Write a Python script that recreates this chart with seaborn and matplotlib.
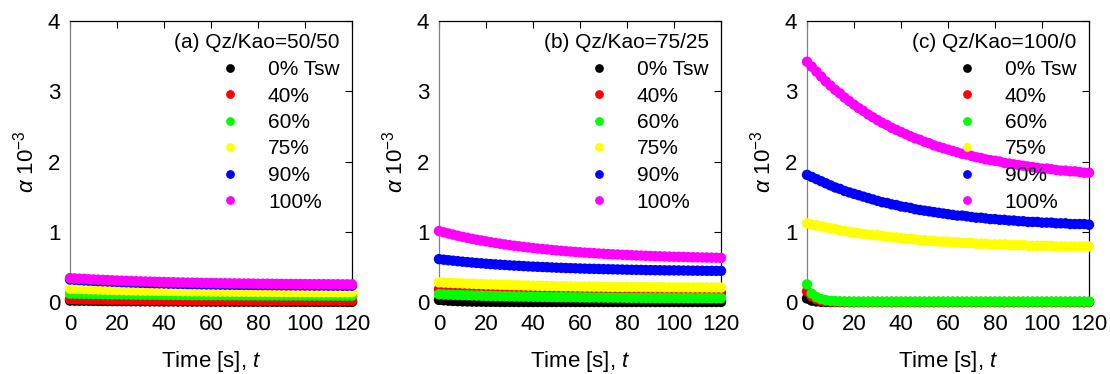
import matplotlib
matplotlib.use("Agg")
import matplotlib.pyplot as plt
from matplotlib.lines import Line2D
import pandas as pd
import seaborn as sns

# ---------------- data ----------------
TIME = list(range(0, 121, 2))  # seconds
LEVELS = ["0% Tsw", "40%", "60%", "75%", "90%", "100%"]
COLORS = ["#000000", "#ff0000", "#00ff00", "#ffff00", "#0000ff", "#ff00ff"]
TITLES = ["(a) Qz/Kao=50/50", "(b) Qz/Kao=75/25", "(c) Qz/Kao=100/0"]
XTICKS = [0, 20, 40, 60, 80, 100, 120]
YTICKS = [0, 1, 2, 3, 4]

# Panel (a) Qz/Kao=50/50
a_0 = [0.020, 0.019, 0.018, 0.018, 0.017, 0.016, 0.015, 0.015, 0.014, 0.013,
       0.013, 0.012, 0.012, 0.011, 0.011, 0.010, 0.010, 0.009, 0.009, 0.009,
       0.008, 0.008, 0.008, 0.007, 0.007, 0.007, 0.006, 0.006, 0.006, 0.006,
       0.005, 0.005, 0.005, 0.005, 0.004, 0.004, 0.004, 0.004, 0.004, 0.004,
       0.003, 0.003, 0.003, 0.003, 0.003, 0.003, 0.003, 0.002, 0.002, 0.002,
       0.002, 0.002, 0.002, 0.002, 0.002, 0.002, 0.002, 0.002, 0.002, 0.001,
       0.001]
a_40 = [0.040, 0.039, 0.038, 0.038, 0.037, 0.036, 0.035, 0.035, 0.034, 0.033,
        0.033, 0.032, 0.032, 0.031, 0.031, 0.030, 0.030, 0.029, 0.029, 0.029,
        0.028, 0.028, 0.028, 0.027, 0.027, 0.027, 0.026, 0.026, 0.026, 0.026,
        0.025, 0.025, 0.025, 0.025, 0.024, 0.024, 0.024, 0.024, 0.024, 0.024,
        0.023, 0.023, 0.023, 0.023, 0.023, 0.023, 0.023, 0.022, 0.022, 0.022,
        0.022, 0.022, 0.022, 0.022, 0.022, 0.022, 0.022, 0.022, 0.022, 0.021,
        0.021]
a_60 = [0.120, 0.119, 0.117, 0.116, 0.115, 0.114, 0.113, 0.111, 0.110, 0.109,
        0.109, 0.108, 0.107, 0.106, 0.105, 0.104, 0.104, 0.103, 0.102, 0.102,
        0.101, 0.101, 0.100, 0.100, 0.099, 0.099, 0.098, 0.098, 0.097, 0.097,
        0.096, 0.096, 0.096, 0.095, 0.095, 0.095, 0.094, 0.094, 0.094, 0.094,
        0.093, 0.093, 0.093, 0.093, 0.093, 0.092, 0.092, 0.092, 0.092, 0.092,
        0.091, 0.091, 0.091, 0.091, 0.091, 0.091, 0.091, 0.091, 0.090, 0.090,
        0.090]
a_75 = [0.190, 0.188, 0.185, 0.183, 0.181, 0.179, 0.177, 0.175, 0.174, 0.172,
        0.170, 0.169, 0.167, 0.166, 0.165, 0.163, 0.162, 0.161, 0.160, 0.159,
        0.158, 0.157, 0.156, 0.155, 0.154, 0.153, 0.152, 0.152, 0.151, 0.150,
        0.149, 0.149, 0.148, 0.148, 0.147, 0.147, 0.146, 0.146, 0.145, 0.145,
        0.144, 0.144, 0.144, 0.143, 0.143, 0.142, 0.142, 0.142, 0.142, 0.141,
        0.141, 0.141, 0.140, 0.140, 0.140, 0.140, 0.140, 0.139, 0.139, 0.139,
        0.139]
a_90 = [0.320, 0.316, 0.312, 0.308, 0.304, 0.301, 0.298, 0.295, 0.292, 0.289,
        0.286, 0.283, 0.281, 0.278, 0.276, 0.274, 0.272, 0.270, 0.268, 0.266,
        0.264, 0.262, 0.261, 0.259, 0.258, 0.256, 0.255, 0.254, 0.252, 0.251,
        0.250, 0.249, 0.248, 0.247, 0.246, 0.245, 0.244, 0.243, 0.243, 0.242,
        0.241, 0.240, 0.240, 0.239, 0.238, 0.238, 0.237, 0.237, 0.236, 0.236,
        0.235, 0.235, 0.234, 0.234, 0.234, 0.233, 0.233, 0.233, 0.232, 0.232,
        0.232]
a_100 = [0.340, 0.336, 0.332, 0.328, 0.324, 0.321, 0.318, 0.315, 0.312, 0.309,
         0.306, 0.303, 0.301, 0.298, 0.296, 0.294, 0.292, 0.290, 0.288, 0.286,
         0.284, 0.282, 0.281, 0.279, 0.278, 0.276, 0.275, 0.274, 0.272, 0.271,
         0.270, 0.269, 0.268, 0.267, 0.266, 0.265, 0.264, 0.263, 0.263, 0.262,
         0.261, 0.260, 0.260, 0.259, 0.258, 0.258, 0.257, 0.257, 0.256, 0.256,
         0.255, 0.255, 0.254, 0.254, 0.254, 0.253, 0.253, 0.253, 0.252, 0.252,
         0.252]

# Panel (b) Qz/Kao=75/25
b_0 = [0.030, 0.024, 0.019, 0.015, 0.012, 0.009, 0.007, 0.006, 0.005, 0.004,
       0.003, 0.002, 0.002, 0.001, 0.001, 0.001, 0.001, 0.000, 0.000, 0.000,
       0.000, 0.000, 0.000, 0.000, 0.000, 0.000, 0.000, 0.000, 0.000, 0.000,
       0.000, 0.000, 0.000, 0.000, 0.000, 0.000, 0.000, 0.000, 0.000, 0.000,
       0.000, 0.000, 0.000, 0.000, 0.000, 0.000, 0.000, 0.000, 0.000, 0.000,
       0.000, 0.000, 0.000, 0.000, 0.000, 0.000, 0.000, 0.000, 0.000, 0.000,
       0.000]
b_40 = [0.180, 0.178, 0.175, 0.173, 0.171, 0.169, 0.167, 0.165, 0.164, 0.162,
        0.160, 0.159, 0.157, 0.156, 0.155, 0.153, 0.152, 0.151, 0.150, 0.149,
        0.148, 0.147, 0.146, 0.145, 0.144, 0.143, 0.142, 0.142, 0.141, 0.140,
        0.139, 0.139, 0.138, 0.138, 0.137, 0.137, 0.136, 0.136, 0.135, 0.135,
        0.134, 0.134, 0.134, 0.133, 0.133, 0.132, 0.132, 0.132, 0.132, 0.131,
        0.131, 0.131, 0.130, 0.130, 0.130, 0.130, 0.130, 0.129, 0.129, 0.129,
        0.129]
b_60 = [0.110, 0.107, 0.105, 0.103, 0.100, 0.098, 0.096, 0.094, 0.092, 0.090,
        0.088, 0.087, 0.085, 0.084, 0.082, 0.081, 0.079, 0.078, 0.077, 0.076,
        0.075, 0.074, 0.073, 0.072, 0.071, 0.070, 0.069, 0.068, 0.067, 0.067,
        0.066, 0.065, 0.064, 0.064, 0.063, 0.063, 0.062, 0.062, 0.061, 0.061,
        0.060, 0.060, 0.059, 0.059, 0.058, 0.058, 0.058, 0.057, 0.057, 0.057,
        0.057, 0.056, 0.056, 0.056, 0.055, 0.055, 0.055, 0.055, 0.055, 0.054,
        0.054]
b_75 = [0.280, 0.277, 0.273, 0.270, 0.267, 0.264, 0.261, 0.259, 0.256, 0.254,
        0.251, 0.249, 0.247, 0.245, 0.243, 0.241, 0.239, 0.238, 0.236, 0.234,
        0.233, 0.231, 0.230, 0.229, 0.228, 0.226, 0.225, 0.224, 0.223, 0.222,
        0.221, 0.220, 0.219, 0.218, 0.218, 0.217, 0.216, 0.215, 0.215, 0.214,
        0.214, 0.213, 0.212, 0.212, 0.211, 0.211, 0.210, 0.210, 0.209, 0.209,
        0.209, 0.208, 0.208, 0.208, 0.207, 0.207, 0.207, 0.206, 0.206, 0.206,
        0.206]
b_90 = [0.610, 0.602, 0.595, 0.588, 0.581, 0.574, 0.568, 0.562, 0.556, 0.551,
        0.545, 0.540, 0.536, 0.531, 0.527, 0.522, 0.518, 0.515, 0.511, 0.507,
        0.504, 0.501, 0.498, 0.495, 0.492, 0.489, 0.487, 0.484, 0.482, 0.480,
        0.477, 0.475, 0.473, 0.472, 0.470, 0.468, 0.466, 0.465, 0.463, 0.462,
        0.460, 0.459, 0.458, 0.457, 0.455, 0.454, 0.453, 0.452, 0.451, 0.450,
        0.450, 0.449, 0.448, 0.447, 0.446, 0.446, 0.445, 0.444, 0.444, 0.443,
        0.443]
b_100 = [1.010, 0.992, 0.975, 0.959, 0.943, 0.928, 0.914, 0.900, 0.887, 0.875,
         0.863, 0.851, 0.841, 0.830, 0.820, 0.810, 0.801, 0.793, 0.784, 0.776,
         0.769, 0.761, 0.754, 0.748, 0.741, 0.735, 0.729, 0.723, 0.718, 0.713,
         0.708, 0.703, 0.699, 0.695, 0.690, 0.687, 0.683, 0.679, 0.676, 0.672,
         0.669, 0.666, 0.663, 0.661, 0.658, 0.655, 0.653, 0.651, 0.649, 0.646,
         0.644, 0.643, 0.641, 0.639, 0.637, 0.636, 0.634, 0.633, 0.631, 0.630,
         0.628]

# Panel (c) Qz/Kao=100/0
c_0 = [0.050, 0.020, 0.008, 0.003, 0.001, 0.000, 0.000, 0.000, 0.000, 0.000,
       0.000, 0.000, 0.000, 0.000, 0.000, 0.000, 0.000, 0.000, 0.000, 0.000,
       0.000, 0.000, 0.000, 0.000, 0.000, 0.000, 0.000, 0.000, 0.000, 0.000,
       0.000, 0.000, 0.000, 0.000, 0.000, 0.000, 0.000, 0.000, 0.000, 0.000,
       0.000, 0.000, 0.000, 0.000, 0.000, 0.000, 0.000, 0.000, 0.000, 0.000,
       0.000, 0.000, 0.000, 0.000, 0.000, 0.000, 0.000, 0.000, 0.000, 0.000,
       0.000]
c_40 = [0.150, 0.080, 0.040, 0.020, 0.010, 0.005, 0.002, 0.001, 0.000, 0.000,
        0.000, 0.000, 0.000, 0.000, 0.000, 0.000, 0.000, 0.000, 0.000, 0.000,
        0.000, 0.000, 0.000, 0.000, 0.000, 0.000, 0.000, 0.000, 0.000, 0.000,
        0.000, 0.000, 0.000, 0.000, 0.000, 0.000, 0.000, 0.000, 0.000, 0.000,
        0.000, 0.000, 0.000, 0.000, 0.000, 0.000, 0.000, 0.000, 0.000, 0.000,
        0.000, 0.000, 0.000, 0.000, 0.000, 0.000, 0.000, 0.000, 0.000, 0.000,
        0.000]
c_60 = [0.250, 0.120, 0.070, 0.042, 0.026, 0.017, 0.012, 0.009, 0.007, 0.006,
        0.005, 0.005, 0.005, 0.005, 0.005, 0.005, 0.005, 0.005, 0.005, 0.005,
        0.005, 0.005, 0.005, 0.005, 0.005, 0.005, 0.005, 0.005, 0.005, 0.005,
        0.005, 0.005, 0.005, 0.005, 0.005, 0.005, 0.005, 0.005, 0.005, 0.005,
        0.005, 0.005, 0.005, 0.005, 0.005, 0.005, 0.005, 0.005, 0.005, 0.005,
        0.005, 0.005, 0.005, 0.005, 0.005, 0.005, 0.005, 0.005, 0.005, 0.005,
        0.005]
c_75 = [1.12, 1.10, 1.09, 1.08, 1.06, 1.05, 1.04, 1.02, 1.01, 1.00,
        0.99, 0.98, 0.97, 0.96, 0.95, 0.95, 0.94, 0.93, 0.92, 0.92,
        0.91, 0.90, 0.90, 0.89, 0.88, 0.88, 0.87, 0.87, 0.86, 0.86,
        0.86, 0.85, 0.85, 0.84, 0.84, 0.84, 0.83, 0.83, 0.83, 0.82,
        0.82, 0.82, 0.82, 0.81, 0.81, 0.81, 0.81, 0.80, 0.80, 0.80,
        0.80, 0.80, 0.80, 0.79, 0.79, 0.79, 0.79, 0.79, 0.79, 0.79,
        0.79]
c_90 = [1.81, 1.78, 1.75, 1.72, 1.69, 1.66, 1.63, 1.61, 1.58, 1.56,
        1.54, 1.52, 1.50, 1.48, 1.46, 1.44, 1.42, 1.41, 1.39, 1.38,
        1.36, 1.35, 1.34, 1.32, 1.31, 1.30, 1.29, 1.28, 1.27, 1.26,
        1.25, 1.24, 1.23, 1.23, 1.22, 1.21, 1.20, 1.20, 1.19, 1.18,
        1.18, 1.17, 1.17, 1.16, 1.16, 1.15, 1.15, 1.14, 1.14, 1.14,
        1.13, 1.13, 1.13, 1.12, 1.12, 1.12, 1.11, 1.11, 1.11, 1.11,
        1.10]
c_100 = [3.42, 3.35, 3.28, 3.21, 3.14, 3.08, 3.02, 2.97, 2.91, 2.86,
         2.81, 2.76, 2.72, 2.67, 2.63, 2.59, 2.55, 2.52, 2.48, 2.45,
         2.42, 2.39, 2.36, 2.33, 2.31, 2.28, 2.26, 2.23, 2.21, 2.19,
         2.17, 2.15, 2.13, 2.11, 2.10, 2.08, 2.06, 2.05, 2.03, 2.02,
         2.01, 2.00, 1.98, 1.97, 1.96, 1.95, 1.94, 1.93, 1.92, 1.91,
         1.90, 1.90, 1.89, 1.88, 1.87, 1.87, 1.86, 1.86, 1.85, 1.84,
         1.84]

PANELS = [
    [a_0, a_40, a_60, a_75, a_90, a_100],
    [b_0, b_40, b_60, b_75, b_90, b_100],
    [c_0, c_40, c_60, c_75, c_90, c_100],
]

# ---------------- style ----------------
sns.set_style("white")
plt.rcParams["font.family"] = ["Liberation Sans", "DejaVu Sans"]
plt.rcParams["mathtext.fontset"] = "custom"
plt.rcParams["mathtext.rm"] = "Liberation Sans"
plt.rcParams["mathtext.it"] = "Liberation Sans:italic"
for key in ["text.color", "axes.labelcolor", "xtick.color", "ytick.color"]:
    plt.rcParams[key] = "black"

W, H = 1110, 374
fig = plt.figure(figsize=(W / 100, H / 100), dpi=100)
lefts = [70, 439, 807]
ax_w, ax_h, ax_bottom = 282, 281, 302

for p, (series, title) in enumerate(zip(PANELS, TITLES)):
    ax = fig.add_axes([lefts[p] / W, 1 - ax_bottom / H, ax_w / W, ax_h / H])
    frames = []
    for lev, vals in zip(LEVELS, series):
        assert len(vals) == len(TIME), (title, lev, len(vals))
        frames.append(pd.DataFrame({"t": TIME, "alpha": vals, "level": lev}))
    df = pd.concat(frames, ignore_index=True)
    sns.scatterplot(data=df, x="t", y="alpha", hue="level", hue_order=LEVELS,
                    palette=COLORS, s=56, linewidth=0, edgecolor="none",
                    ax=ax, legend=False, zorder=3)
    for coll in ax.collections:
        coll.set_clip_on(False)

    ax.set_xlim(0, 120)
    ax.set_ylim(0, 4)
    ax.set_xticks(XTICKS)
    ax.set_yticks(YTICKS)
    ax.tick_params(direction="in", length=5, width=0.8, top=True, right=True,
                   labelsize=16, colors="black")
    ax.tick_params(axis="y", pad=7)
    ax.tick_params(axis="x", pad=9)
    for side in ["top", "right", "bottom"]:
        ax.spines[side].set_color("black")
        ax.spines[side].set_linewidth(0.9)
    ax.spines["left"].set_color("#808080")
    ax.spines["left"].set_linewidth(0.9)

    ax.set_xlabel(r"Time [s], $t$", fontsize=16, labelpad=10)
    ax.set_ylabel(r"$\alpha$ 10$^{-3}$", fontsize=16, labelpad=7)

    handles = [Line2D([], [], marker="o", ls="", markerfacecolor=c,
                      markeredgecolor="none", markersize=6.3) for c in COLORS]
    ax.legend(handles, LEVELS, title=title, loc="upper right", frameon=False,
              fontsize=15, title_fontsize=15, alignment="right",
              handlelength=1.0, handletextpad=1.3, labelspacing=0.36,
              borderaxespad=0.3, borderpad=0.3)

fig.savefig("out.png", dpi=100)
